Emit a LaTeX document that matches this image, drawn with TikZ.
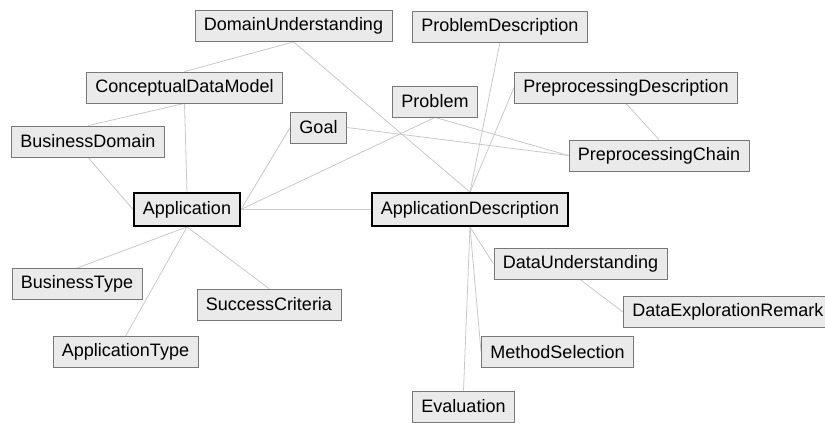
\documentclass[tikz,border=0pt]{standalone}
\usepackage{fontspec}
\setmainfont{Liberation Sans}
\usepackage{tikz}
\usetikzlibrary{backgrounds}
\definecolor{boxfill}{RGB}{234,234,234}
\definecolor{boxline}{RGB}{120,120,120}
\definecolor{linkgray}{RGB}{200,200,200}

\begin{document}
\begin{tikzpicture}[x=1pt,y=-1pt,
    concept/.style={draw=boxline,fill=boxfill,line width=0.8pt,inner xsep=9pt,inner ysep=0pt,
                    minimum height=31pt,font=\fontsize{18}{20}\selectfont},
    mainconcept/.style={concept,draw=black,line width=1.8pt,minimum height=33pt},
    link/.style={draw=linkgray,line width=0.8pt}]
  \useasboundingbox (0,0) rectangle (825,423);
  % concepts
  \node[concept] (du) at (293.5,26) {DomainUnderstanding};
  \node[concept] (pd) at (500,26.5) {ProblemDescription};
  \node[concept] (cdm) at (184.5,87.5) {ConceptualDataModel};
  \node[concept] (ppd) at (626,87.5) {PreprocessingDescription};
  \node[concept] (prob) at (435,101.5) {Problem};
  \node[concept] (goal) at (318.5,127.5) {Goal};
  \node[concept] (bd) at (88,141.5) {BusinessDomain};
  \node[concept] (pc) at (659,155.5) {PreprocessingChain};
  \node[mainconcept] (app) at (187,209.5) {Application};
  \node[mainconcept] (ad) at (470,209.5) {ApplicationDescription};
  \node[concept] (dund) at (580.5,264) {DataUnderstanding};
  \node[concept] (bt) at (77,284) {BusinessType};
  \node[concept] (sc) at (269,304.5) {SuccessCriteria};
  \node[concept,anchor=west] (der) at (623,312) {DataExplorationRemark};
  \node[concept] (at) at (125.5,352) {ApplicationType};
  \node[concept] (ms) at (557.5,352) {MethodSelection};
  \node[concept] (ev) at (463.5,406.5) {Evaluation};
  % links
  \begin{pgfonlayer}{background}
    \foreach \a/\b in {du.south/cdm.north, du.south/ad.north, cdm.south/bd.north,
                       cdm.south/app.north, bd.south/app.west, goal.west/app.east,
                       prob.south/app.east, goal.east/pc.west, prob.south/pc.west,
                       pd.south/ad.north, ppd.west/ad.north, ppd.south/pc.north,
                       app.east/ad.west, app.south/bt.north, app.south/at.north,
                       app.south/sc.north, ad.south/dund.west, ad.south/ms.west,
                       ad.south/ev.north, dund.south/der.west}
      \draw[link] (\a) -- (\b);
  \end{pgfonlayer}
\end{tikzpicture}
\end{document}
